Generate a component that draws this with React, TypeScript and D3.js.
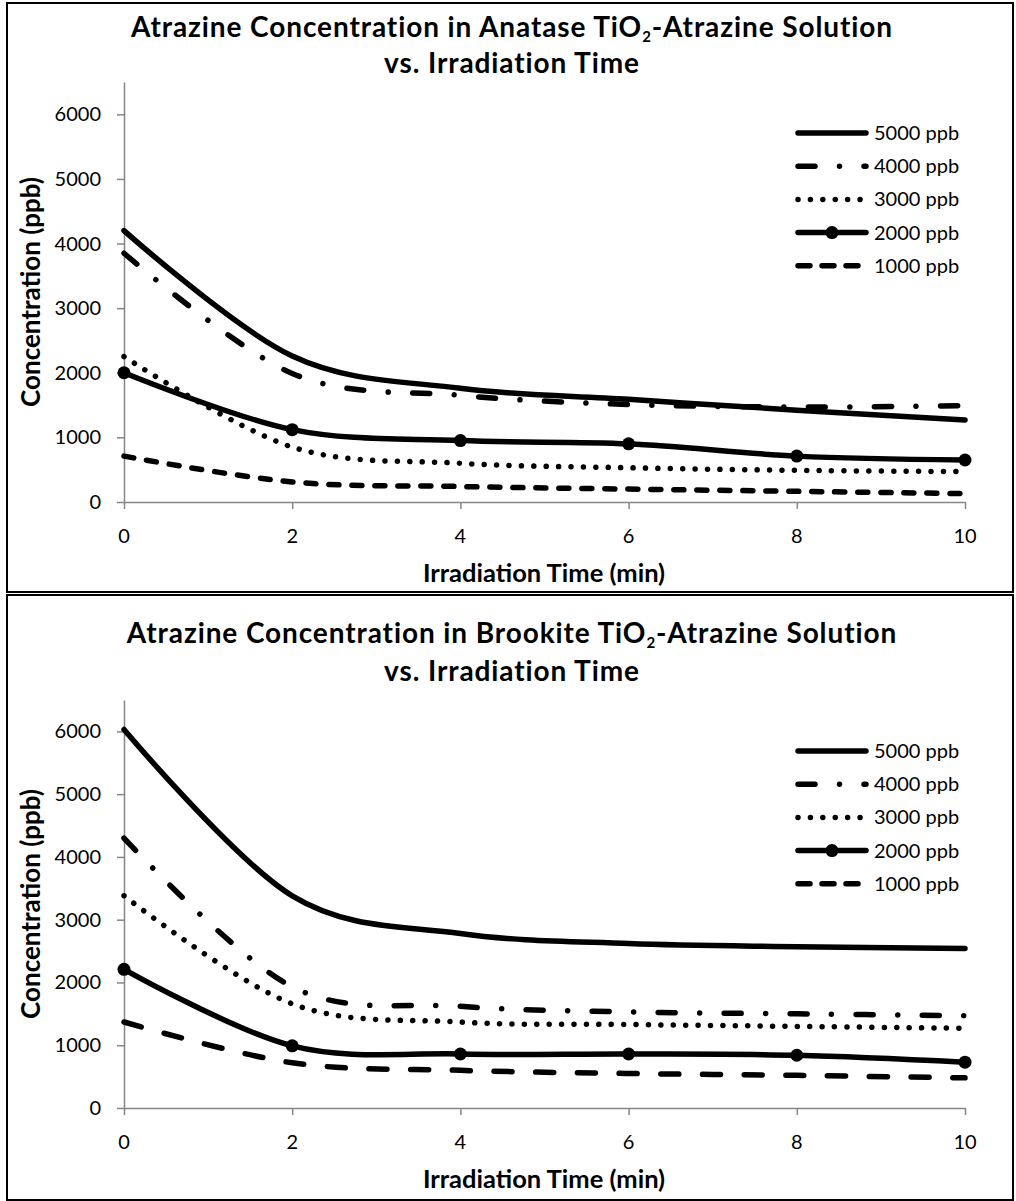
import React, { useEffect, useRef } from "react";
import * as d3 from "d3";

// irradiation time (min)
const times = [0, 2, 4, 6, 8, 10];
const seriesNames = ["5000 ppb", "4000 ppb", "3000 ppb", "2000 ppb", "1000 ppb"];

// anatase TiO2 (ppb)
const anatase5000 = [4200, 2260, 1760, 1590, 1420, 1270];
const anatase4000 = [3850, 1990, 1650, 1510, 1470, 1490];
const anatase3000 = [2250, 850, 600, 530, 490, 470];
const anatase2000 = [2000, 1120, 950, 900, 710, 650];
const anatase1000 = [710, 310, 240, 200, 165, 130];

// brookite TiO2 (ppb)
const brookite5000 = [6030, 3380, 2780, 2620, 2570, 2540];
const brookite4000 = [4300, 1930, 1620, 1530, 1500, 1470];
const brookite3000 = [3380, 1660, 1370, 1330, 1300, 1270];
const brookite2000 = [2210, 990, 860, 860, 840, 730];
const brookite1000 = [1370, 720, 600, 550, 520, 480];

const xTicks = [0, 2, 4, 6, 8, 10];
const yTicks = [0, 1000, 2000, 3000, 4000, 5000, 6000];

const FONT = "Lato, 'Open Sans', sans-serif";
const AXIS_GREY = "#868686";

function drawPanel(root: any, p: any) {
  const g = root.append("g");

  g.append("rect")
    .attr("x", 7)
    .attr("y", p.top)
    .attr("width", 1006)
    .attr("height", p.height)
    .attr("fill", "#fff")
    .attr("stroke", "#000")
    .attr("stroke-width", 2);

  const x = d3.scaleLinear().domain([0, 10]).range([124, 965]);
  const y = d3.scaleLinear().domain([0, 6500]).range([p.y0, p.y1]);

  // title, two lines
  const t1 = g.append("text")
    .attr("x", 512)
    .attr("y", p.titleY)
    .attr("text-anchor", "middle")
    .attr("font-family", FONT)
    .attr("font-weight", "bold")
    .attr("font-size", 28)
    .attr("letter-spacing", 0.9);
  t1.append("tspan").text(`Atrazine Concentration in ${p.phase} TiO`);
  t1.append("tspan").attr("font-size", 15).attr("dy", 5).text("2");
  t1.append("tspan").attr("dy", -5).text("-Atrazine Solution");
  g.append("text")
    .attr("x", 512)
    .attr("y", p.titleY2)
    .attr("text-anchor", "middle")
    .attr("font-family", FONT)
    .attr("font-weight", "bold")
    .attr("font-size", 28)
    .attr("letter-spacing", 0.9)
    .text("vs. Irradiation Time");

  // axes
  const yAxis = g.append("g")
    .attr("transform", "translate(124,0)")
    .call(d3.axisLeft(y).tickValues(yTicks).tickSize(7).tickSizeOuter(0).tickFormat(() => ""));
  const xAxis = g.append("g")
    .attr("transform", `translate(0,${p.y0})`)
    .call(d3.axisBottom(x).tickValues(xTicks).tickSize(7).tickSizeOuter(0).tickFormat(() => ""));
  [yAxis, xAxis].forEach(a => {
    a.selectAll("path, line").attr("stroke", AXIS_GREY).attr("stroke-width", 1.5);
  });

  g.selectAll(".ylab").data(yTicks).enter().append("text")
    .attr("x", 101)
    .attr("y", d => y(d))
    .attr("dy", "0.35em")
    .attr("text-anchor", "end")
    .attr("font-family", FONT)
    .attr("font-size", 20)
    .text(d => d);

  g.selectAll(".xlab").data(xTicks).enter().append("text")
    .attr("x", d => x(d))
    .attr("y", p.y0 + 34)
    .attr("dy", "0.35em")
    .attr("text-anchor", "middle")
    .attr("font-family", FONT)
    .attr("font-size", 20)
    .text(d => d);

  g.append("text")
    .attr("x", 544)
    .attr("y", p.y0 + 71)
    .attr("dy", "0.35em")
    .attr("text-anchor", "middle")
    .attr("font-family", FONT)
    .attr("font-weight", "bold")
    .attr("font-size", 25.5)
    .text("Irradiation Time (min)");

  g.append("text")
    .attr("transform", `translate(31,${(p.y0 + p.y1) / 2}) rotate(-90)`)
    .attr("dy", "0.35em")
    .attr("text-anchor", "middle")
    .attr("font-family", FONT)
    .attr("font-weight", "bold")
    .attr("font-size", 26)
    .text("Concentration (ppb)");

  // series, smoothed like the spreadsheet lines
  const line = d3.line<number>()
    .x((d, i) => x(times[i]))
    .y(d => y(d))
    .curve(d3.curveCatmullRom.alpha(0));

  p.series.forEach((s: any) => {
    g.append("path")
      .attr("d", line(s.values))
      .attr("fill", "none")
      .attr("stroke", "#000")
      .attr("stroke-width", 5.5)
      .attr("stroke-linecap", "round")
      .attr("stroke-dasharray", s.dash || null);
    if (s.marker) {
      g.selectAll(null).data(s.values).enter().append("circle")
        .attr("cx", (d, i) => x(times[i]))
        .attr("cy", d => y(d))
        .attr("r", 6.5)
        .attr("fill", "#000");
    }
  });

  // legend
  p.series.forEach((s: any, i: number) => {
    const ly = p.legendY + i * 33.2;
    g.append("line")
      .attr("x1", 798)
      .attr("x2", 866)
      .attr("y1", ly)
      .attr("y2", ly)
      .attr("stroke", "#000")
      .attr("stroke-width", 5.5)
      .attr("stroke-linecap", "round")
      .attr("stroke-dasharray", s.legendDash || s.dash || null);
    if (s.marker) {
      g.append("circle").attr("cx", 832).attr("cy", ly).attr("r", 6.5).attr("fill", "#000");
    }
    g.append("text")
      .attr("x", 874)
      .attr("y", ly)
      .attr("dy", "0.35em")
      .attr("font-family", FONT)
      .attr("font-size", 20)
      .text(s.name);
  });
}

const dashDot = "17 24.5 0.01 24.5";
const dotted = "0.01 12.4";

export default function App() {
  const ref = useRef<SVGSVGElement>(null);

  useEffect(() => {
    const svg = d3.select(ref.current);
    svg.selectAll("*").remove();

    drawPanel(svg, {
      top: 3, height: 589, y0: 502, y1: 82, titleY: 36.5, titleY2: 72.5, legendY: 133, phase: "Anatase",
      series: [
        { name: seriesNames[0], values: anatase5000 },
        { name: seriesNames[1], values: anatase4000, dash: dashDot },
        { name: seriesNames[2], values: anatase3000, dash: dotted },
        { name: seriesNames[3], values: anatase2000, marker: true },
        { name: seriesNames[4], values: anatase1000, dash: "10 13", legendDash: "12 12" },
      ],
    });

    drawPanel(svg, {
      top: 595, height: 605, y0: 1108, y1: 700, titleY: 643, titleY2: 681, legendY: 751, phase: "Brookite",
      series: [
        { name: seriesNames[0], values: brookite5000 },
        { name: seriesNames[1], values: brookite4000, dash: dashDot },
        { name: seriesNames[2], values: brookite3000, dash: dotted },
        { name: seriesNames[3], values: brookite2000, marker: true },
        { name: seriesNames[4], values: brookite1000, dash: "18 23.7", legendDash: "12 12" },
      ],
    });
  }, []);

  return (
    <svg
      ref={ref}
      width={1016}
      height={1201}
      style={{ position: "absolute", left: 0, top: 0, background: "#fff" }}
    />
  );
}
